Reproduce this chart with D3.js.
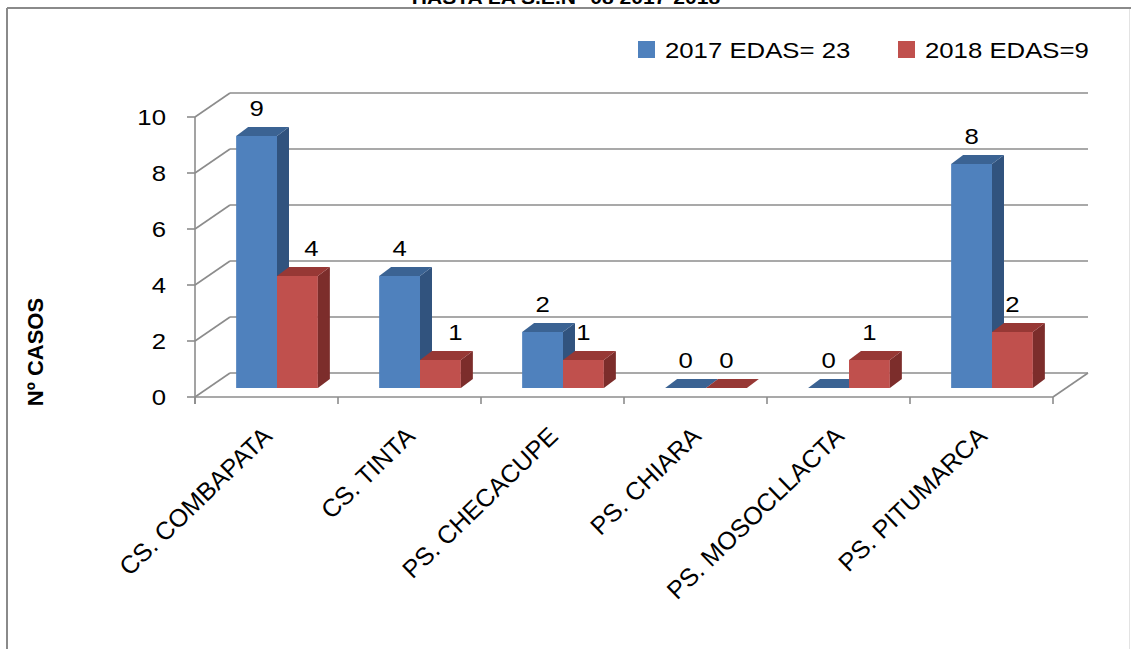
<!DOCTYPE html>
<html><head><meta charset="utf-8">
<script src="https://cdn.jsdelivr.net/npm/d3@7"></script>
<style>
html,body{margin:0;padding:0;background:#fff;overflow:hidden;}
svg{display:block;font-family:"Liberation Sans",Arial,sans-serif;}
</style></head>
<body>
<svg id="chart" width="1131" height="649"></svg>
<script>
// ---- data ----
const categories = ["CS. COMBAPATA","CS. TINTA","PS. CHECACUPE","PS. CHIARA","PS. MOSOCLLACTA","PS. PITUMARCA"];
const seriesNames = ["2017 EDAS= 23","2018 EDAS=9"];
const values2017 = [9,4,2,0,0,8];
const values2018 = [4,1,1,0,1,2];
const yTicks = [0,2,4,6,8,10];
const titleText = "HASTA LA S.E.N° 08 2017-2018";
const yAxisTitle = "Nº CASOS";

// ---- layout / style ----
const series = [values2017, values2018];
const colors = [
  {front:"#4F81BD", top:"#3B6393", side:"#31537E"},
  {front:"#C0504D", top:"#973835", side:"#7C2D2B"}
];
const labelNudge = [[0,0,0,0,0,0],[14,15,0,0,0,0]]; // Excel label collision offsets
const sx = 1.17; // horizontal stretch of the source image text

const svg = d3.select("#chart");
const floorY = 397, left = 195, right = 1053;
const depth = {dx:35, dy:-24};
const gridColor = "#8c8c8c";

const y = d3.scaleLinear().domain([0,10]).range([floorY, floorY-280]);
const x0 = d3.scaleBand().domain(categories).range([left,right]).paddingInner(0).paddingOuter(0);
const gap = 1.5;
const step = x0.bandwidth();
const barW = step/(2+gap);
const x1 = d3.scaleBand().domain([0,1]).range([barW*gap/2, barW*gap/2 + 2*barW]).padding(0);

// frame
svg.append("line").attr("x1",7).attr("y1",8).attr("x2",1131).attr("y2",8).attr("stroke","#8a8a8a").attr("stroke-width",2);
svg.append("line").attr("x1",7).attr("y1",8).attr("x2",7).attr("y2",649).attr("stroke","#8a8a8a").attr("stroke-width",2);
svg.append("line").attr("x1",1129.5).attr("y1",9).attr("x2",1129.5).attr("y2",649).attr("stroke","#e3e3e3").attr("stroke-width",1);

// title (cut at top edge, as in the source)
svg.append("text").attr("transform",`translate(566,4) scale(${sx},1)`)
  .attr("text-anchor","middle").attr("font-weight","bold").attr("font-size",18).text(titleText);

// back wall gridlines and side wall diagonals
const grid = svg.append("g").attr("stroke",gridColor).attr("stroke-width",1.6).attr("fill","none");
yTicks.forEach(t=>{
  const yf = y(t);
  grid.append("line").attr("x1",left+depth.dx).attr("y1",yf+depth.dy).attr("x2",right+depth.dx).attr("y2",yf+depth.dy);
  grid.append("line").attr("x1",left).attr("y1",yf).attr("x2",left+depth.dx).attr("y2",yf+depth.dy);
  grid.append("line").attr("x1",left-8).attr("y1",yf).attr("x2",left).attr("y2",yf);
});
grid.append("line").attr("x1",left).attr("y1",y(10)).attr("x2",left).attr("y2",floorY+7);
grid.append("line").attr("x1",left).attr("y1",floorY).attr("x2",right).attr("y2",floorY);
grid.append("line").attr("x1",right).attr("y1",floorY).attr("x2",right+depth.dx).attr("y2",floorY+depth.dy);
d3.range(categories.length+1).forEach(i=>{
  const xx = left + i*step;
  grid.append("line").attr("x1",xx).attr("y1",floorY).attr("x2",xx).attr("y2",floorY+7);
});

// y tick labels
svg.append("g").selectAll("text").data(yTicks).join("text")
  .attr("transform",d=>`translate(166,${y(d)+8}) scale(${sx},1)`)
  .attr("text-anchor","end").attr("font-size",22).attr("fill","#000").text(d=>d);

// y axis title
svg.append("text").attr("transform","translate(43,352) rotate(-90)")
  .attr("text-anchor","middle").attr("font-weight","bold").attr("font-size",22).text(yAxisTitle);

// bars
const bars = svg.append("g");
const o0 = {dx:10.5, dy:-9};
const bd = {dx:12, dy:-9};
const labels = [];
categories.forEach((c,i)=>{
  series.forEach((vals,s)=>{
    const v = vals[i];
    const xa = x0(c) + x1(s) + o0.dx;
    const xb = xa + barW;
    const yb = floorY + o0.dy;
    const yt = y(v) + o0.dy;
    const col = colors[s];
    if (v>0) {
      bars.append("rect").attr("x",xa).attr("y",yt).attr("width",barW).attr("height",yb-yt).attr("fill",col.front);
      bars.append("path").attr("d",`M${xb},${yt}L${xb+bd.dx},${yt+bd.dy}L${xb+bd.dx},${yb+bd.dy}L${xb},${yb}Z`).attr("fill",col.side);
    }
    bars.append("path").attr("d",`M${xa},${yt}L${xa+bd.dx},${yt+bd.dy}L${xb+bd.dx},${yt+bd.dy}L${xb},${yt}Z`).attr("fill",col.top);
    labels.push({x:(xa+xb)/2 + labelNudge[s][i], y:yt-20, v});
  });
});
svg.append("g").selectAll("text").data(labels).join("text")
  .attr("transform",d=>`translate(${d.x},${d.y}) scale(${sx},1)`)
  .attr("text-anchor","middle").attr("font-size",22).text(d=>d.v);

// category labels
svg.append("g").selectAll("text").data(categories).join("text")
  .attr("transform",c=>`translate(${x0(c)+step/2+7},438) rotate(-44)`)
  .attr("text-anchor","end").attr("font-size",25).text(c=>c);

// legend
const lg = svg.append("g");
const legX = [638, 898];
seriesNames.forEach((n,s)=>{
  lg.append("rect").attr("x",legX[s]).attr("y",41).attr("width",17).attr("height",17).attr("fill",colors[s].front);
  lg.append("text").attr("transform",`translate(${legX[s]+27},58) scale(${sx},1)`)
    .attr("font-size",22).text(n);
});
</script>
</body></html>
